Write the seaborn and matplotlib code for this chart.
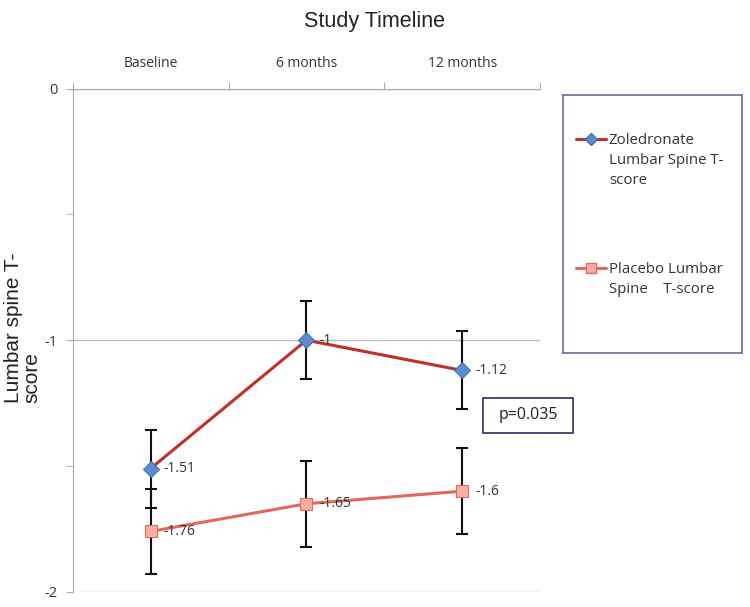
import matplotlib.pyplot as plt
import seaborn as sns
import pandas as pd
from matplotlib.ticker import FixedLocator
from matplotlib.patches import Rectangle

timepoints = ['Baseline', '6 months', '12 months']
zoledronate = [-1.51, -1.00, -1.12]
placebo = [-1.76, -1.65, -1.60]
zol_err = [0.155, 0.155, 0.155]
pla_err = [0.17, 0.17, 0.17]
zol_labels = ['-1.51', '-1', '-1.12']
pla_labels = ['-1.76', '-1.65', '-1.6']

sns.set_style('white')
plt.rcParams['font.family'] = ['Open Sans', 'DejaVu Sans']

fig = plt.figure(figsize=(7.5, 6.07), dpi=100)
ax = fig.add_axes([0.097, 0.025, 0.623, 0.829])

pos = list(range(len(timepoints)))
df = pd.DataFrame({
    'pos': pos * 2,
    'score': zoledronate + placebo,
    'series': ['Zoledronate Lumbar Spine T-\nscore'] * 3 + ['Placebo Lumbar\nSpine    T-score'] * 3,
})

# error bars first so the lines sit on top
ax.errorbar(pos, zoledronate, yerr=zol_err, fmt='none', ecolor='#111111',
            elinewidth=1.5, capsize=4, capthick=1.5, zorder=2)
ax.errorbar(pos, placebo, yerr=pla_err, fmt='none', ecolor='#111111',
            elinewidth=1.5, capsize=4, capthick=1.5, zorder=2)

sns.lineplot(data=df, x='pos', y='score', hue='series', style='series',
             palette=['#C0302A', '#E2685C'], markers=['D', 's'], dashes=False,
             linewidth=2.2, markersize=8.5, ax=ax, legend=False, zorder=3)

# marker colours like the original
zl, pl = ax.lines[-2], ax.lines[-1]
zl.set_markerfacecolor('#5B8BD0')
zl.set_markeredgecolor('#3F6FB5')
pl.set_markerfacecolor('#F6AE9F')
pl.set_markeredgecolor('#E2685C')
pl.set_markersize(9)

for x, y, t in zip(pos, zoledronate, zol_labels):
    ax.text(x + 0.085, y, t, fontsize=10, va='center', ha='left', color='#333333')
for x, y, t in zip(pos, placebo, pla_labels):
    ax.text(x + 0.085, y, t, fontsize=10, va='center', ha='left', color='#333333')

ax.set_xlim(-0.5, 2.5)
ax.set_ylim(-2, 0)

# category labels on top, ticks at category boundaries
ax.xaxis.tick_top()
ax.set_xticks([-0.5, 0.5, 1.5, 2.5])
ax.set_xticklabels([])
ax.set_xticks(pos, minor=True)
ax.set_xticklabels(timepoints, minor=True, fontsize=10, color='#333333')
ax.tick_params(axis='x', which='major', length=5, color='#AAAAAA', direction='out')
ax.tick_params(axis='x', which='minor', length=0, pad=13)

ax.set_yticks([-2, -1, 0])
ax.set_yticklabels(['-2', '-1', '0'], fontsize=10.5, color='#333333')
ax.yaxis.set_minor_locator(FixedLocator([-1.5, -0.5]))
ax.tick_params(axis='y', which='both', length=5, color='#AAAAAA', direction='out', left=True)
ax.tick_params(axis='y', which='major', pad=6)

ax.grid(axis='y', which='major', color='#BBBBBB', linewidth=1)
for s in ['right', 'bottom']:
    ax.spines[s].set_visible(False)
for s in ['left', 'top']:
    ax.spines[s].set_color('#AAAAAA')

ax.set_xlabel('')
ax.set_ylabel('Lumbar spine T-\nscore', fontsize=15, color='#222222',
              family=['Liberation Sans', 'DejaVu Sans'], linespacing=1.0,
              multialignment='left')
ax.yaxis.set_label_coords(-0.066, 0.525)

fig.text(0.5, 0.965, 'Study Timeline', ha='center', va='center', fontsize=15.5,
         family=['Liberation Sans', 'DejaVu Sans'], color='#222222')

# legend box drawn manually like the excel one
leg_ax = fig.add_axes([0.751, 0.418, 0.238, 0.425])
leg_ax.set_xlim(0, 1)
leg_ax.set_ylim(0, 1)
leg_ax.set_xticks([])
leg_ax.set_yticks([])
for s in leg_ax.spines.values():
    s.set_color('#6C6C9E')
    s.set_linewidth(1.2)
leg_ax.plot([0.07, 0.24], [0.83, 0.83], color='#C0302A', linewidth=2.2)
leg_ax.plot([0.155], [0.83], marker='D', markersize=6, markerfacecolor='#5B8BD0',
            markeredgecolor='#3F6FB5', linestyle='none')
leg_ax.text(0.255, 0.852, 'Zoledronate\nLumbar Spine T-\nscore', fontsize=10.8,
            va='top', ha='left', color='#333333', linespacing=1.45)
leg_ax.plot([0.07, 0.24], [0.33, 0.33], color='#E2685C', linewidth=2.2)
leg_ax.plot([0.155], [0.33], marker='s', markersize=7, markerfacecolor='#F6AE9F',
            markeredgecolor='#E2685C', linestyle='none')
leg_ax.text(0.255, 0.352, 'Placebo Lumbar\nSpine    T-score', fontsize=10.8,
            va='top', ha='left', color='#333333', linespacing=1.45)

# p-value box
fig.patches.append(Rectangle((0.644, 0.2867), 0.12, 0.0577, transform=fig.transFigure,
                             facecolor='white', edgecolor='#3A3A7A', linewidth=1.3, zorder=5))
fig.text(0.704, 0.316, 'p=0.035', fontsize=11.5, ha='center', va='center', color='#222222',
         zorder=6)

fig.savefig('out.png', dpi=100)
